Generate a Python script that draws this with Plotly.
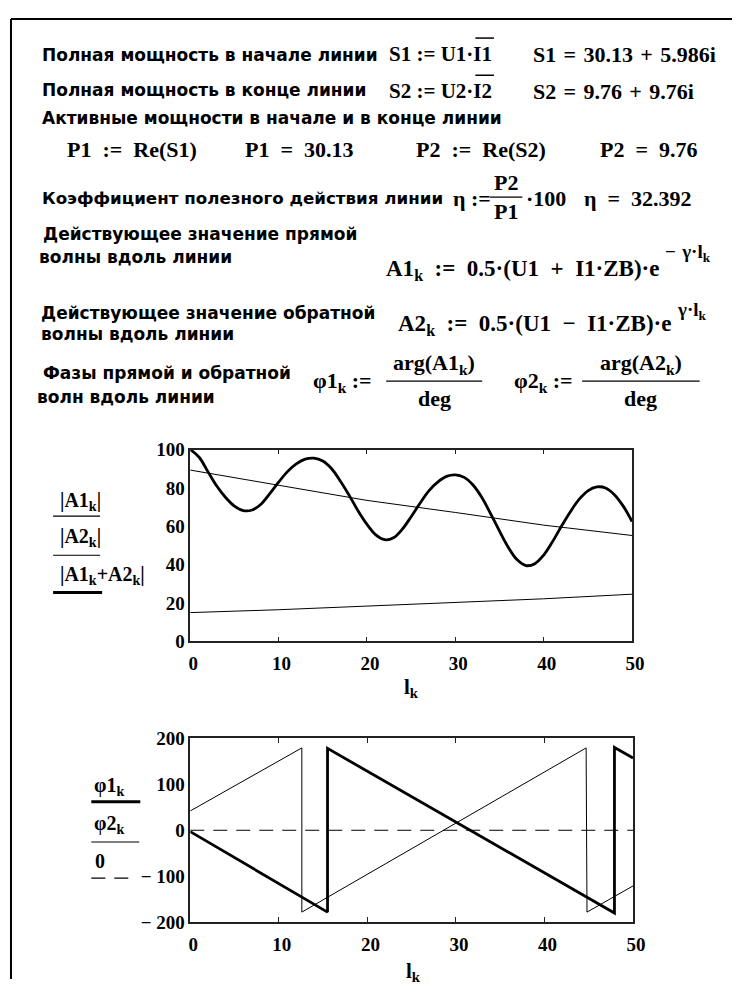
import plotly.graph_objects as go

# ---- values ----
l_k = list(range(0, 51))
A_sum = [100, 96, 88.5, 81, 75, 70.5, 68.2, 68.5, 71.5, 77, 83, 88.5, 92.5, 95, 95.5,
         94, 90, 83.5, 76, 68, 61, 55.5, 53, 54, 58.5, 65, 72, 78.5, 83, 86, 86.8,
         85.5, 81.5, 75, 66.5, 57.5, 49, 42.5, 39.5, 40.5, 45, 52, 60, 67.5, 74, 78.5,
         80.5, 80, 76.5, 70.5, 62.5]

l_wave = [0, 10, 20, 30, 40, 50]
A1_abs = [89.3, 81.3, 73.5, 67.2, 60.6, 55.2]
A2_abs = [15.0, 16.5, 18.4, 20.2, 22.2, 24.6]

l_phi1 = [0, 15.5, 15.5, 47.9, 47.9, 50]
phi1 = [-3, -178, 178, -180, 180, 157]
l_phi2 = [0, 12.6, 12.6, 44.7, 44.8, 50]
phi2 = [42, 179, -178, 179, -178, -121]
l_zero = [0, 50]
zero = [0, 0]

x_ticks = [0, 10, 20, 30, 40, 50]
y1_ticks = [0, 20, 40, 60, 80, 100]
y2_ticks = [-200, -100, 0, 100, 200]
y2_labels = ["− 200", "− 100", "0", "100", "200"]

# the page body keeps its 8px margin, so the figure is laid out in window pixels minus it
OFF = 8
W, H = 753 - 2 * OFF, 990 - OFF
SANS = "DejaVu Sans"
SERIF = "Liberation Serif"
E = "\u2002"  # wide space, Mathcad puts air round its operators
T = "\u2004"


def px(x):
    return (x - OFF) / W


def py(y):
    return 1 - (y - OFF) / H


fig = go.Figure()
annotations = []
shapes = []


def text(s, x, y, serif=True, size=22, anchor="left"):
    """Put a bold label at window pixel position (x, y)."""
    annotations.append(dict(
        text="<b>%s</b>" % s, x=px(x), y=py(y), xref="paper", yref="paper",
        xanchor=anchor, yanchor="middle", showarrow=False,
        font=dict(family=SERIF if serif else SANS, size=size, color="black"),
    ))


def hline(x0, x1, y, width=1.2, dash=None):
    shapes.append(dict(
        type="line", xref="paper", yref="paper",
        x0=px(x0), x1=px(x1), y0=py(y), y1=py(y),
        line=dict(color="black", width=width, dash=dash),
    ))


# worksheet frame (top and left edges only are in view)
shapes.append(dict(type="line", xref="paper", yref="paper", x0=px(9), x1=1, y0=py(9), y1=py(9),
                   line=dict(color="black", width=2)))
shapes.append(dict(type="line", xref="paper", yref="paper", x0=px(9), x1=px(9), y0=py(9), y1=0,
                   line=dict(color="black", width=2)))

# ---- text part of the worksheet ----
text("Полная мощность в начале линии", 39, 46, serif=False, size=17)
text("S1 := U1·I1", 502, 45, size=21, anchor="right")
hline(483, 502, 28.5, 1.5)
text("S1%s=%s30.13%s+%s5.986i" % (T, T, T, T), 540, 45)

text("Полная мощность в конце линии", 39, 82, serif=False, size=17)
text("S2 := U2·I2", 502, 83, size=21, anchor="right")
hline(483, 502, 66.5, 1.5)
text("S2%s=%s9.76%s+%s9.76i" % (T, T, T, T), 540, 83)

text("Активные мощности в начале и в конце линии", 39, 110, serif=False, size=17)
text("P1%s:=%sRe(S1)" % (E, E), 64, 142)
text("P1%s=%s30.13" % (E, E), 246, 142)
text("P2%s:=%sRe(S2)" % (E, E), 420, 142)
text("P2%s=%s9.76" % (E, E), 608, 142)

text("Коэффициент полезного действия линии", 39, 192, serif=False, size=16.7)
text("η :=", 458, 192)
text("P2", 514, 176, anchor="center")
hline(498, 531, 191, 1.2)
text("P1", 514, 206, anchor="center")
text("·100", 533, 192)
text("η%s=%s32.392" % (E, E), 592, 192)

text("Действующее значение прямой", 40, 229, serif=False, size=17)
text("волны вдоль линии", 36, 252, serif=False, size=17)
text("A1<sub>k</sub>%s:=%s0.5·(U1%s+%sI1·ZB)·e" % (E, E, E, E), 673, 265, size=23, anchor="right")
text("−%sγ·l<sub>k</sub>" % T, 675, 248, size=19)

text("Действующее значение обратной", 38, 309, serif=False, size=17)
text("волны вдоль линии", 38, 331, serif=False, size=17)
text("A2<sub>k</sub>%s:=%s0.5·(U1%s−%sI1·ZB)·e" % (E, E, E, E), 685, 322, size=23, anchor="right")
text("γ·l<sub>k</sub>", 687, 307, size=19)

text("Фазы прямой и обратной", 40, 371, serif=False, size=17)
text("волн вдоль линии", 34, 395, serif=False, size=17)
text("φ1<sub>k</sub> :=", 315, 380)
text("arg(A1<sub>k</sub>)", 441, 362, anchor="center")
hline(392, 490, 379, 1.2)
text("deg", 441, 397, anchor="center")
text("φ2<sub>k</sub> :=", 520, 380)
text("arg(A2<sub>k</sub>)", 652, 362, anchor="center")
hline(592, 712, 379, 1.2)
text("deg", 652, 397, anchor="center")

# ---- plot 1: wave amplitudes ----
fig.add_trace(go.Scatter(x=l_wave, y=A1_abs, mode="lines", line=dict(color="black", width=1),
                         xaxis="x", yaxis="y"))
fig.add_trace(go.Scatter(x=l_wave, y=A2_abs, mode="lines", line=dict(color="black", width=1),
                         xaxis="x", yaxis="y"))
fig.add_trace(go.Scatter(x=l_k, y=A_sum, mode="lines", line=dict(color="black", width=2.8, shape="spline"),
                         xaxis="x", yaxis="y"))

text("|A1<sub>k</sub>|", 57, 502, size=20)
hline(52, 100, 517, 1.2)
text("|A2<sub>k</sub>|", 57, 539, size=20)
hline(52, 100, 557, 1.2)
text("|A1<sub>k</sub>+A2<sub>k</sub>|", 57, 578, size=20)
hline(52, 102, 595, 3)
text("l<sub>k</sub>", 418, 693, size=21, anchor="center")

# ---- plot 2: wave phases ----
fig.add_trace(go.Scatter(x=l_phi1, y=phi1, mode="lines", line=dict(color="black", width=2.8),
                         xaxis="x2", yaxis="y2"))
fig.add_trace(go.Scatter(x=l_phi2, y=phi2, mode="lines", line=dict(color="black", width=1),
                         xaxis="x2", yaxis="y2"))
fig.add_trace(go.Scatter(x=l_zero, y=zero, mode="lines", line=dict(color="black", width=1, dash="14px,9px"),
                         xaxis="x2", yaxis="y2"))

text("φ1<sub>k</sub>", 92, 793, size=20)
hline(91, 141, 809, 3)
text("φ2<sub>k</sub>", 92, 832, size=20)
hline(91, 140, 850, 1.2)
text("0", 93, 869, size=20)
hline(91, 138, 887, 1.2, dash="14px,9px")
text("l<sub>k</sub>", 420, 983, size=21, anchor="center")

tick_font = dict(family=SERIF, size=19, color="black", weight="bold")
axis_line = dict(showline=True, linecolor="#222", linewidth=1.5, showgrid=False, zeroline=False)

fig.update_layout(
    width=W, height=H, margin=dict(l=0, r=0, t=0, b=0),
    paper_bgcolor="white", plot_bgcolor="white", showlegend=False,
    annotations=annotations, shapes=shapes,
    xaxis=dict(domain=[px(192), px(643)], range=[0, 50], tickvals=x_ticks, ticks="inside",
               ticklen=5, tickcolor="#222", mirror="ticks", tickfont=tick_font,
               ticklabelshift=3, ticklabelstandoff=4, anchor="y", **axis_line),
    yaxis=dict(domain=[py(645), py(449)], range=[0, 100], tickvals=y1_ticks, ticks="",
               mirror=True, tickfont=tick_font, ticklabelstandoff=0, anchor="x", **axis_line),
    yaxis3=dict(overlaying="y", anchor="x", side="right", range=[0, 100], tickvals=y1_ticks,
                ticks="inside", ticklen=5, tickcolor="#222", showticklabels=False,
                showgrid=False, zeroline=False),
    xaxis2=dict(domain=[px(192), px(644)], range=[0, 50], tickvals=x_ticks, ticks="inside",
                ticklen=5, tickcolor="#222", mirror="ticks", tickfont=tick_font,
                ticklabelshift=3, ticklabelstandoff=4, anchor="y2", **axis_line),
    yaxis2=dict(domain=[py(932), py(744)], range=[-200, 200], tickvals=y2_ticks, ticktext=y2_labels,
                ticks="", mirror=True, tickfont=tick_font, ticklabelstandoff=0, anchor="x2", **axis_line),
    yaxis4=dict(overlaying="y2", anchor="x2", side="right", range=[-200, 200], tickvals=y2_ticks,
                ticks="inside", ticklen=5, tickcolor="#222", showticklabels=False,
                showgrid=False, zeroline=False),
)

fig.write_html("out.html")
